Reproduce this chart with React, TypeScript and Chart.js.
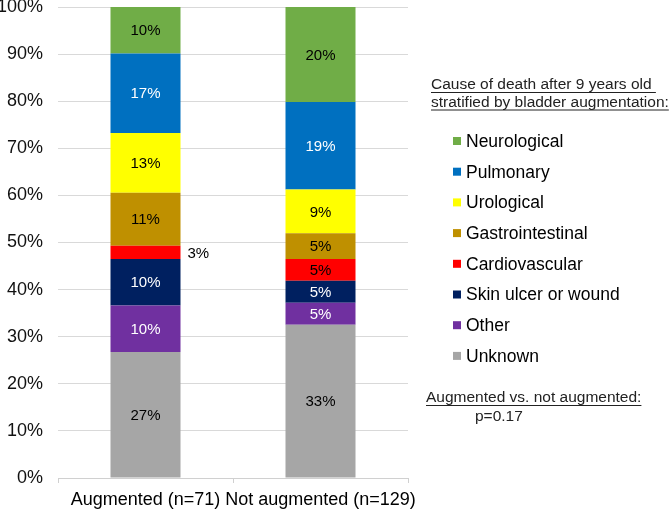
import React, { useEffect, useRef } from "react";
import { Chart, registerables } from "chart.js";

Chart.register(...registerables);

const groups = ["Augmented (n=71)", "Not augmented (n=129)"];
// legend order (top of stack first)
const causes = [
  "Neurological",
  "Pulmonary",
  "Urological",
  "Gastrointestinal",
  "Cardiovascular",
  "Skin ulcer or wound",
  "Other",
  "Unknown",
];
const causeColors = [
  "#70AD47",
  "#0070C0",
  "#FFFF00",
  "#BF9000",
  "#FF0000",
  "#002060",
  "#7030A0",
  "#A6A6A6",
];
const labelColors = ["#000", "#fff", "#000", "#000", "#000", "#fff", "#fff", "#000"];
const augmented = [9.86, 16.9, 12.68, 11.27, 2.82, 9.86, 9.86, 26.76];
const notAugmented = [20.16, 18.6, 9.3, 5.43, 4.65, 4.65, 4.65, 32.56];
const yTicks = [0, 10, 20, 30, 40, 50, 60, 70, 80, 90, 100];
const titleLines = ["Cause of death after 9 years old ", "stratified by bladder augmentation:"];
const noteLines = ["Augmented vs. not augmented:", "p=0.17"];

const FONT = '"Liberation Sans", Arial, sans-serif';

const labelPlugin = {
  id: "segLabels",
  afterDatasetsDraw(chart: any) {
    const ctx = chart.ctx;
    ctx.save();
    ctx.font = `15px ${FONT}`;
    ctx.textBaseline = "middle";
    chart.data.datasets.forEach((ds: any, di: number) => {
      const meta = chart.getDatasetMeta(di);
      meta.data.forEach((bar: any, i: number) => {
        const v = ds.data[i];
        const txt = Math.round(v) + "%";
        const top = Math.min(bar.y, bar.base);
        const h = Math.abs(bar.base - bar.y);
        const cy = top + h / 2 + 1;
        if (h < 16) {
          ctx.fillStyle = "#000";
          ctx.textAlign = "left";
          ctx.fillText(txt, bar.x + bar.width / 2 + 7, cy);
        } else {
          ctx.fillStyle = ds.labelColor;
          ctx.textAlign = "center";
          ctx.fillText(txt, bar.x, cy);
        }
      });
    });
    ctx.restore();
  },
};

const legendPlugin = {
  id: "sideLegend",
  afterDraw(chart: any) {
    const ctx = chart.ctx;
    ctx.save();
    ctx.textBaseline = "middle";
    ctx.textAlign = "left";
    // title
    ctx.font = `15.5px ${FONT}`;
    ctx.fillStyle = "#222";
    ctx.strokeStyle = "#222";
    ctx.lineWidth = 1;
    const tY = [85, 102.5];
    titleLines.forEach((t, i) => {
      ctx.fillText(t, 431, tY[i]);
      const w = ctx.measureText(t).width;
      ctx.beginPath();
      ctx.moveTo(431, tY[i] + 7.5);
      ctx.lineTo(431 + w, tY[i] + 7.5);
      ctx.stroke();
    });
    // items, in order of legend (reverse of stacking)
    const ds = chart.data.datasets.slice().reverse();
    ctx.font = `17.5px ${FONT}`;
    ds.forEach((d: any, i: number) => {
      const y = 141 + i * 30.7;
      ctx.fillStyle = d.backgroundColor;
      ctx.fillRect(453, y - 4, 8, 8);
      ctx.fillStyle = "#000";
      ctx.fillText(d.label, 466, y + 1);
    });
    // note
    ctx.font = `15.5px ${FONT}`;
    ctx.fillStyle = "#222";
    ctx.fillText(noteLines[0], 426, 398);
    const w = ctx.measureText(noteLines[0]).width;
    ctx.beginPath();
    ctx.moveTo(426, 405.5);
    ctx.lineTo(426 + w, 405.5);
    ctx.stroke();
    ctx.fillText(noteLines[1], 475, 416.5);
    ctx.restore();
  },
};

export default function App() {
  const ref = useRef<HTMLCanvasElement | null>(null);
  useEffect(() => {
    document.body.style.margin = "0";
    if (!ref.current) return;
    const datasets = causes
      .map((c, i) => ({
        label: c,
        data: [augmented[i], notAugmented[i]],
        backgroundColor: causeColors[i],
        labelColor: labelColors[i],
        borderWidth: 0,
        categoryPercentage: 0.8,
        barPercentage: 0.5,
      }))
      .reverse();
    const chart = new Chart(ref.current, {
      type: "bar",
      data: { labels: groups, datasets },
      options: {
        responsive: false,
        animation: false,
        layout: { padding: { top: 7, right: 262, left: 0, bottom: 0 } },
        plugins: { legend: { display: false }, tooltip: { enabled: false } },
        scales: {
          x: {
            stacked: true,
            afterFit: (s: any) => {
              s.height = 31;
              s.paddingLeft = 0;
              s.paddingRight = 0;
            },
            grid: {
              display: true,
              drawOnChartArea: false,
              drawTicks: true,
              tickLength: 5,
              color: "#d0d0d0",
              offset: true,
            },
            border: { display: true, color: "#d0d0d0" },
            ticks: {
              color: "#000",
              font: { family: FONT, size: 18 },
              padding: 6,
              maxRotation: 0,
              autoSkip: false,
            },
          },
          y: {
            stacked: true,
            min: 0,
            max: 100,
            afterBuildTicks: (s: any) => {
              s.ticks = yTicks.map((v) => ({ value: v }));
            },
            afterFit: (s: any) => {
              s.width = 58;
              s.paddingTop = 0;
              s.paddingBottom = 0;
            },
            grid: { color: "#d9d9d9", drawTicks: false },
            border: { display: false },
            ticks: {
              color: "#111",
              padding: 15,
              font: { family: FONT, size: 18 },
              callback: (v: any) => v + "%",
            },
          },
        },
      },
      plugins: [labelPlugin, legendPlugin],
    } as any);
    return () => chart.destroy();
  }, []);
  return (
    <div style={{ width: 670, height: 509, background: "#fff" }}>
      <canvas ref={ref} width={670} height={509} />
    </div>
  );
}
